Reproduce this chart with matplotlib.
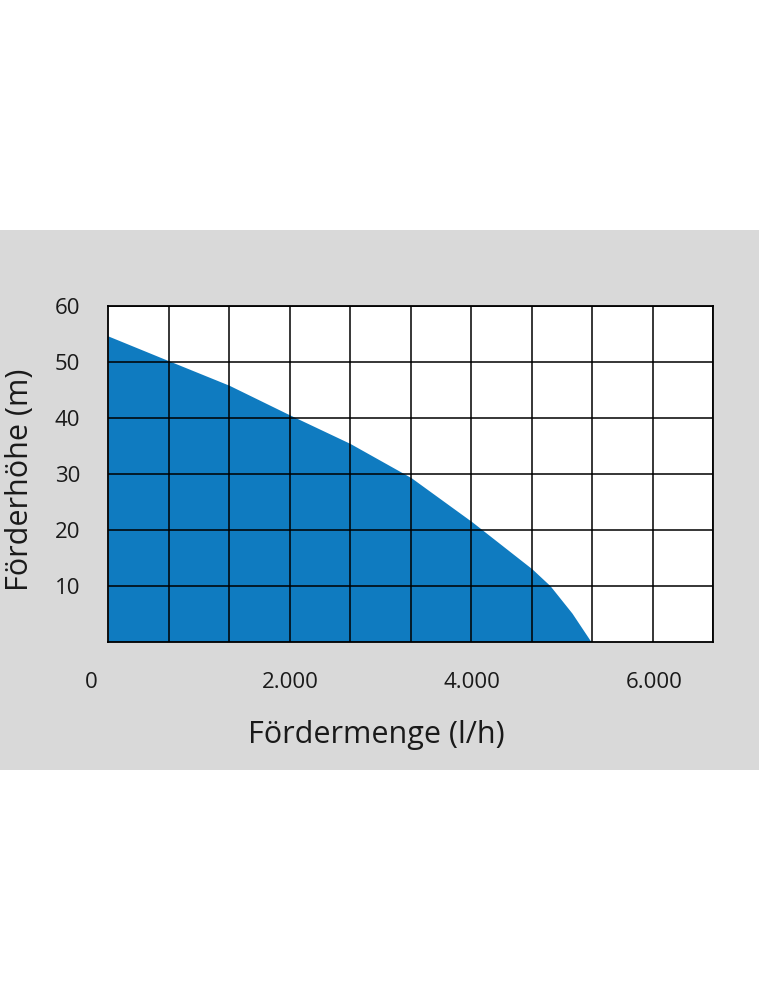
import numpy as np
import matplotlib
matplotlib.use("Agg")
import matplotlib.pyplot as plt
from matplotlib.patches import Rectangle
from matplotlib.ticker import MultipleLocator
import matplotlib.transforms as mtransforms

plt.rcParams['font.family'] = ['Open Sans', 'DejaVu Sans']

# Kennlinie
foerdermenge = [0, 662, 1329, 1996, 2659, 3329, 3999, 4658, 4856, 5097, 5306]
foerderhoehe = [54.6, 50.2, 45.8, 40.5, 35.4, 29.3, 21.4, 13.0, 10.0, 5.1, 0.0]

x_ticks = [0, 2000, 4000, 6000]
x_ticklabels = ["0", "2.000", "4.000", "6.000"]
y_ticks = [10, 20, 30, 40, 50, 60]
x_max = 6650
grid_step_x = 665

blau = '#0f7bc0'
grau = '#d9d9d9'

fig = plt.figure(figsize=(7.59, 9.99), dpi=100)
fig.patch.set_facecolor('white')
fig.patches.append(Rectangle((0, 0.2292), 1, 0.5406, transform=fig.transFigure,
                             facecolor=grau, edgecolor='none', zorder=-10))

ax = fig.add_axes([0.1423, 0.3577, 0.7975, 0.3363])
ax.set_zorder(1)
ax.set_facecolor('white')
ax.fill_between(foerdermenge, foerderhoehe, 0, color=blau, linewidth=0, zorder=1)

ax.set_xlim(0, x_max)
ax.set_ylim(0, 60)
ax.set_xticks(x_ticks)
ax.set_xticklabels(x_ticklabels)
ax.set_yticks(y_ticks)
ax.xaxis.set_minor_locator(MultipleLocator(grid_step_x))
ax.xaxis.grid(True, which='minor', color='black', linewidth=1.1)
ax.xaxis.grid(False, which='major')
ax.yaxis.grid(True, which='major', color='black', linewidth=1.1)
ax.set_axisbelow(False)

ax.tick_params(axis='both', which='both', length=0, labelsize=16, colors='#1a1a1a')
ax.tick_params(axis='x', pad=22)
ax.tick_params(axis='y', pad=20)

# "0" sitzt im Original etwas links
lbl0 = ax.get_xticklabels()[0]
lbl0.set_transform(lbl0.get_transform() + mtransforms.ScaledTranslation(-0.17, 0, fig.dpi_scale_trans))

for s in ax.spines.values():
    s.set_color('black')
    s.set_linewidth(1.3)
    s.set_zorder(3)

fig.text(0.496, 0.2643, "Fördermenge (l/h)", ha='center', va='center', fontsize=22, color='#1a1a1a')
fig.text(0.027, 0.52, "Förderhöhe (m)", ha='center', va='center', rotation=90, fontsize=22, color='#1a1a1a')

fig.savefig("out.png", dpi=100)
